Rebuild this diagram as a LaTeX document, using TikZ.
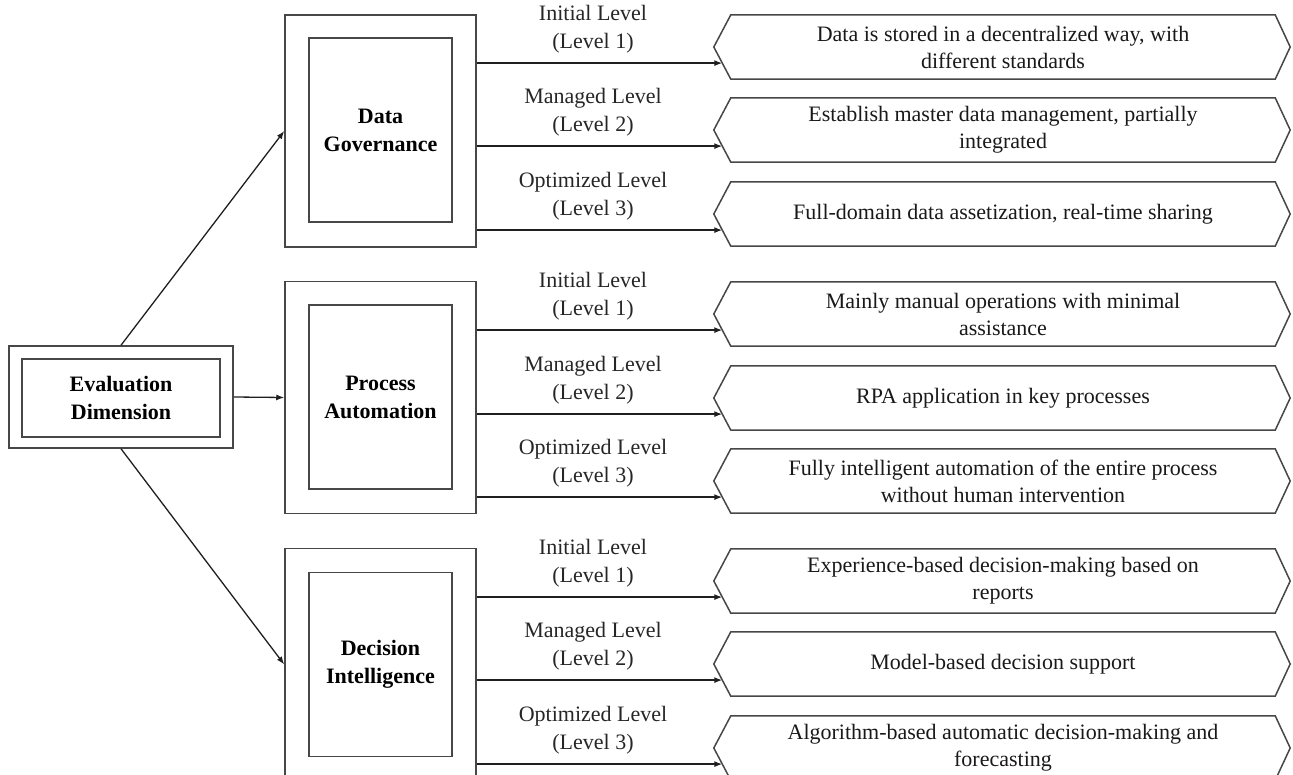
\documentclass[tikz,border=0pt]{standalone}
\usepackage{fontspec}
\setmainfont{Liberation Serif}
\usetikzlibrary{calc,arrows.meta}
\newcommand{\levelrow}[5]{%
  \node[hexbox] (#2) at (1003,#3+32) {#5};
  \draw[frame] (#2.north west) -- (#2.north east) -- ([xshift=15pt]#2.east) -- (#2.south east) -- (#2.south west) -- ([xshift=-17pt]#2.west) -- cycle;
  \coordinate (#2t) at ($(#2.south west)!0.5!([xshift=-17pt]#2.west)$);
  \draw[arr] (#1.east |- #2t) -- (#2t);
  \node[lvl] (#2l) at (593,#3+14) {#4};
}
\begin{document}
\begin{tikzpicture}[x=1pt,y=-1pt,
  frame/.style={draw=black!72,line width=1.5pt},
  arr/.style={draw=black!88,line width=1.3pt,-{Latex[length=8pt,width=6pt]}},
  outerbox/.style={frame,minimum width=191pt,minimum height=232pt,inner sep=0pt},
  innerbox/.style={frame,minimum width=143pt,minimum height=184pt,align=center,font=\fontsize{22pt}{28pt}\selectfont\bfseries},
  hexbox/.style={minimum width=544pt,minimum height=64pt,inner sep=0pt,align=center,font=\fontsize{22pt}{27pt}\selectfont,text=black!90},
  lvl/.style={align=center,inner sep=0pt,font=\fontsize{22pt}{28pt}\selectfont,text=black!85}]
\useasboundingbox (0,0) rectangle (1293,775);
\clip (0,0) rectangle (1293,775);
% evaluation dimension
\node[frame,minimum width=224pt,minimum height=102pt] (ev) at (121,397) {};
\node[frame,minimum width=198pt,minimum height=78pt,align=center,font=\fontsize{22pt}{28pt}\selectfont\bfseries] (evi) at (121,398) {Evaluation\\Dimension};
% dimension boxes
\node[outerbox] (dg) at (380.5,131) {};
\node[innerbox] (dgi) at (380.5,130) {Data\\Governance};
\node[outerbox] (pa) at (380.5,397.5) {};
\node[innerbox] (pai) at (380.5,397) {Process\\Automation};
\node[outerbox] (di) at (380.5,664.5) {};
\node[innerbox] (dii) at (380.5,664.5) {Decision\\Intelligence};
% main arrows
\draw[arr] (ev.north) -- (dg.west);
\draw[arr] (ev.east) -- (pa.west);
\draw[arr] (ev.south) -- (di.west);
% level rows
\levelrow{dg}{h11}{15}{Initial Level\\(Level 1)}{Data is stored in a decentralized way, with\\different standards}
\levelrow{dg}{h12}{98}{Managed Level\\(Level 2)}{Establish master data management, partially\\integrated}
\levelrow{dg}{h13}{182}{Optimized Level\\(Level 3)}{Full-domain data assetization, real-time sharing}
\levelrow{pa}{h21}{282}{Initial Level\\(Level 1)}{Mainly manual operations with minimal\\assistance}
\levelrow{pa}{h22}{366}{Managed Level\\(Level 2)}{RPA application in key processes}
\levelrow{pa}{h23}{449}{Optimized Level\\(Level 3)}{Fully intelligent automation of the entire process\\without human intervention}
\levelrow{di}{h31}{549}{Initial Level\\(Level 1)}{Experience-based decision-making based on\\reports}
\levelrow{di}{h32}{632}{Managed Level\\(Level 2)}{Model-based decision support}
\levelrow{di}{h33}{716}{Optimized Level\\(Level 3)}{Algorithm-based automatic decision-making and\\forecasting}
\end{tikzpicture}
\end{document}
